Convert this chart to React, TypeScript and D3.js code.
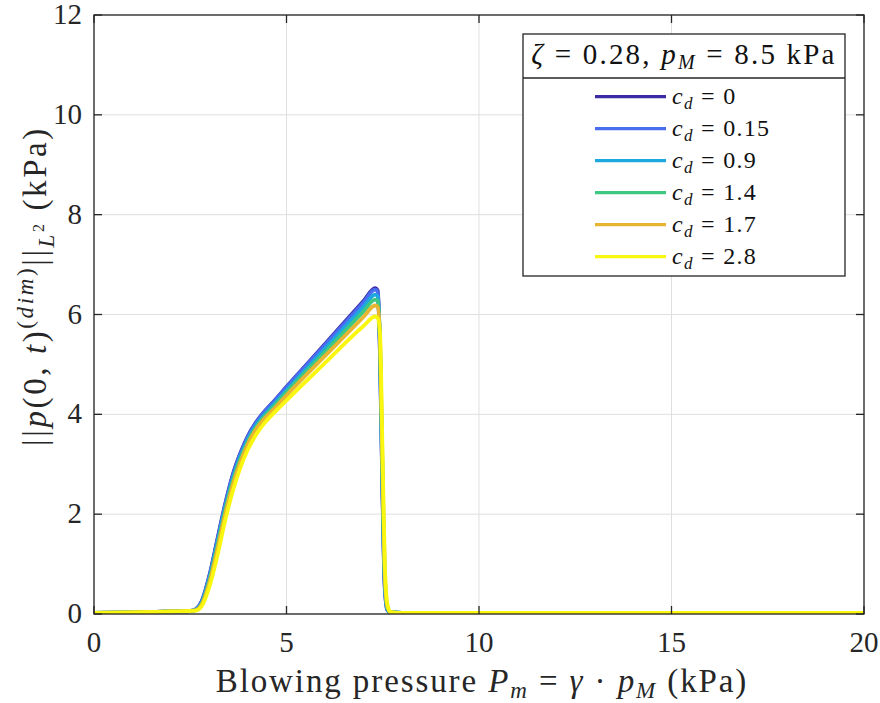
import * as d3 from 'd3';

// blowing pressure samples (kPa), shared by every c_d run
const PRESSURE = [0, 1, 2, 2.5, 2.65, 2.8, 3.0, 3.2, 3.4, 3.6, 3.8, 4.0, 4.2, 4.4, 4.6, 5, 6, 7, 7.3, 7.37, 7.43, 7.49, 7.55, 7.62, 7.7, 8, 10, 15, 20];

const CD_LABELS = ['0', '0.15', '0.9', '1.4', '1.7', '2.8'];
const CD_COLORS = ['#3b2ca6', '#4a6cf0', '#1ea8e0', '#3ec882', '#e8b530', '#f9f710'];

const NORM_CD0 = [0.02, 0.03, 0.05, 0.06, 0.1, 0.26, 0.78, 1.48, 2.18, 2.78, 3.22, 3.57, 3.83, 4.03, 4.2, 4.55, 5.41, 6.27, 6.53, 6.48, 5.2, 2.6, 0.6, 0.08, 0.03, 0.02, 0.02, 0.02, 0.02];
const NORM_CD015 = [0.02, 0.03, 0.05, 0.06, 0.1, 0.25, 0.76, 1.46, 2.16, 2.76, 3.2, 3.56, 3.82, 4.02, 4.19, 4.54, 5.39, 6.24, 6.5, 6.45, 5.1, 2.5, 0.55, 0.08, 0.03, 0.02, 0.02, 0.02, 0.02];
const NORM_CD09 = [0.02, 0.03, 0.05, 0.06, 0.09, 0.23, 0.72, 1.4, 2.1, 2.7, 3.15, 3.5, 3.77, 3.97, 4.14, 4.48, 5.32, 6.15, 6.4, 6.36, 5.3, 2.7, 0.7, 0.1, 0.03, 0.02, 0.02, 0.02, 0.02];
const NORM_CD14 = [0.02, 0.03, 0.05, 0.06, 0.08, 0.21, 0.68, 1.35, 2.05, 2.65, 3.1, 3.46, 3.73, 3.93, 4.1, 4.44, 5.25, 6.06, 6.3, 6.27, 5.4, 2.9, 0.8, 0.12, 0.03, 0.02, 0.02, 0.02, 0.02];
const NORM_CD17 = [0.02, 0.03, 0.05, 0.06, 0.08, 0.19, 0.63, 1.28, 1.98, 2.58, 3.04, 3.41, 3.69, 3.89, 4.05, 4.38, 5.17, 5.95, 6.18, 6.15, 5.5, 3.1, 0.9, 0.15, 0.04, 0.02, 0.02, 0.02, 0.02];
const NORM_CD28 = [0.02, 0.03, 0.05, 0.06, 0.07, 0.16, 0.55, 1.15, 1.85, 2.45, 2.93, 3.3, 3.58, 3.8, 3.97, 4.28, 5.03, 5.77, 5.96, 5.93, 5.6, 3.4, 1.1, 0.2, 0.04, 0.02, 0.02, 0.02, 0.02];

const SERIES = [NORM_CD0, NORM_CD015, NORM_CD09, NORM_CD14, NORM_CD17, NORM_CD28];

const X_TICKS = [0, 5, 10, 15, 20];
const Y_TICKS = [0, 2, 4, 6, 8, 10, 12];

const W = 880;
const H = 703;
const M = { left: 94, right: 16, top: 15, bottom: 89 };
const FONT = '"Liberation Serif", "DejaVu Serif", serif';
const AXIS = '#262626';

export default function App() {
  const x = d3.scaleLinear().domain([0, 20]).range([M.left, W - M.right]);
  const y = d3.scaleLinear().domain([0, 12]).range([H - M.bottom, M.top]);
  const line = d3
    .line<number>()
    .x((_, i) => x(PRESSURE[i]))
    .y((d) => y(d))
    .curve(d3.curveMonotoneX);

  const [x0, x1] = x.range();
  const [y0, y1] = y.range();
  const tick = 8;

  // legend geometry
  const lg = { x: 523, y: 34, w: 322, h: 242, titleH: 44 };
  const rowY = (i: number) => 96.7 + i * 32;

  return (
    <svg width={W} height={H} style={{ position: 'fixed', left: 0, top: 0, background: '#fff' }}>
      <defs>
        <clipPath id="plot">
          <rect x={x0} y={y1} width={x1 - x0} height={y0 - y1} />
        </clipPath>
      </defs>

      {/* grid */}
      {X_TICKS.map((t) => (
        <line key={'gx' + t} x1={x(t)} x2={x(t)} y1={y0} y2={y1} stroke="#dfdfdf" strokeWidth={1} />
      ))}
      {Y_TICKS.map((t) => (
        <line key={'gy' + t} x1={x0} x2={x1} y1={y(t)} y2={y(t)} stroke="#dfdfdf" strokeWidth={1} />
      ))}

      {/* curves */}
      <g clipPath="url(#plot)">
        {SERIES.map((s, i) => (
          <path key={i} d={line(s) ?? ''} fill="none" stroke={CD_COLORS[i]} strokeWidth={3.8} strokeLinejoin="round" />
        ))}
      </g>

      {/* frame and ticks */}
      <rect x={x0} y={y1} width={x1 - x0} height={y0 - y1} fill="none" stroke={AXIS} strokeWidth={1.3} />
      {X_TICKS.map((t) => (
        <g key={'tx' + t} stroke={AXIS} strokeWidth={1.3}>
          <line x1={x(t)} x2={x(t)} y1={y0} y2={y0 - tick} />
          <line x1={x(t)} x2={x(t)} y1={y1} y2={y1 + tick} />
        </g>
      ))}
      {Y_TICKS.map((t) => (
        <g key={'ty' + t} stroke={AXIS} strokeWidth={1.3}>
          <line x1={x0} x2={x0 + tick} y1={y(t)} y2={y(t)} />
          <line x1={x1} x2={x1 - tick} y1={y(t)} y2={y(t)} />
        </g>
      ))}

      {/* tick labels */}
      <g fontFamily={FONT} fontSize={29} fill={AXIS}>
        {X_TICKS.map((t) => (
          <text key={'lx' + t} x={x(t)} y={652} textAnchor="middle">
            {t}
          </text>
        ))}
        {Y_TICKS.map((t) => (
          <text key={'ly' + t} x={82} y={y(t) + 9} textAnchor="end">
            {t}
          </text>
        ))}
      </g>

      {/* x label */}
      <text x={(x0 + x1) / 2 + 3} y={692} textAnchor="middle" fontFamily={FONT} fontSize={33} fill={AXIS} letterSpacing={1.9}>
        Blowing pressure <tspan fontStyle="italic">P</tspan>
        <tspan fontStyle="italic" fontSize={23} dy={6}>m</tspan>
        <tspan dy={-6}> = </tspan>
        <tspan fontStyle="italic">γ</tspan>
        <tspan> · </tspan>
        <tspan fontStyle="italic">p</tspan>
        <tspan fontStyle="italic" fontSize={23} dy={6}>M</tspan>
        <tspan dy={-6}>  (kPa)</tspan>
      </text>

      {/* y label */}
      <text
        transform={`translate(46, 286) rotate(-90)`}
        textAnchor="middle"
        fontFamily={FONT}
        fontSize={33}
        fill={AXIS}
        letterSpacing={2.6}
      >
        ||<tspan fontStyle="italic">p</tspan>(0, <tspan fontStyle="italic">t</tspan>)
        <tspan fontSize={23} dy={-13}>(</tspan>
        <tspan fontSize={23} fontStyle="italic">dim</tspan>
        <tspan fontSize={23}>)</tspan>
        <tspan dy={13}>||</tspan>
        <tspan fontStyle="italic" fontSize={23} dy={8}>L</tspan>
        <tspan fontSize={16} dy={-10}>2</tspan>
        <tspan dy={2}>  (kPa)</tspan>
      </text>

      {/* legend */}
      <rect x={lg.x} y={lg.y} width={lg.w} height={lg.h} fill="#fff" stroke={AXIS} strokeWidth={1.3} />
      <line x1={lg.x} x2={lg.x + lg.w} y1={lg.y + lg.titleH} y2={lg.y + lg.titleH} stroke={AXIS} strokeWidth={1.3} />
      <text x={lg.x + lg.w / 2} y={64} textAnchor="middle" fontFamily={FONT} fontSize={29} fill="#111" letterSpacing={2.2}>
        <tspan fontStyle="italic">ζ</tspan> = 0.28, <tspan fontStyle="italic">p</tspan>
        <tspan fontStyle="italic" fontSize={20} dy={5}>M</tspan>
        <tspan dy={-5}> = 8.5 kPa</tspan>
      </text>
      {CD_LABELS.map((lab, i) => (
        <g key={'leg' + lab}>
          <line x1={595} x2={666} y1={rowY(i)} y2={rowY(i)} stroke={CD_COLORS[i]} strokeWidth={3.2} />
          <text x={672} y={rowY(i) + 7} fontFamily={FONT} fontSize={24} fill="#111" letterSpacing={1.3}>
            <tspan fontStyle="italic">c</tspan>
            <tspan fontStyle="italic" fontSize={17} dy={5}>d</tspan>
            <tspan dy={-5}> = {lab}</tspan>
          </text>
        </g>
      ))}
    </svg>
  );
}
